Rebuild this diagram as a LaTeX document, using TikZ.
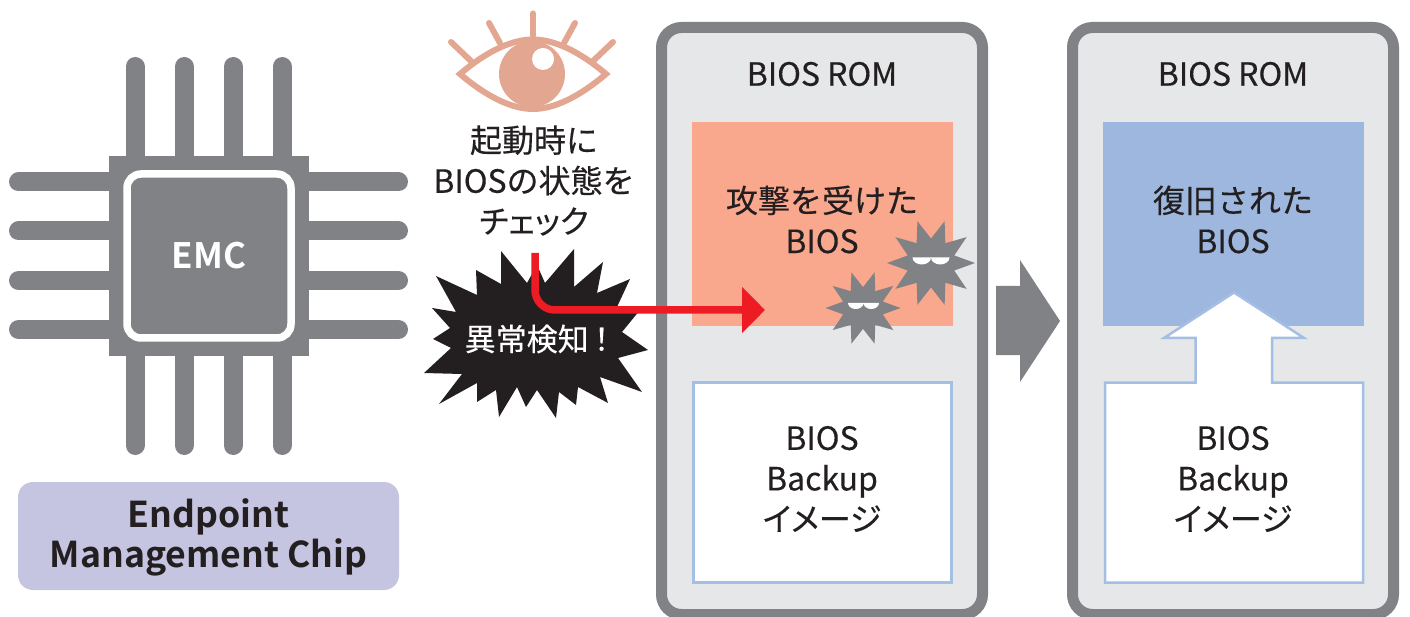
\documentclass[tikz,border=0pt]{standalone}
\usepackage{fontspec}
\setmainfont{Noto Sans CJK JP}[BoldFont={Noto Sans CJK JP Bold}]
\usepackage{tikz}
\usetikzlibrary{arrows.meta,shapes.geometric}
\pgfdeclarelayer{bg}
\pgfsetlayers{bg,main}
\definecolor{chipgray}{HTML}{808285}
\definecolor{panelgray}{HTML}{E6E7E8}
\definecolor{inkblack}{HTML}{231F20}
\definecolor{attackorange}{HTML}{F9A88E}
\definecolor{restoreblue}{HTML}{9DB7DF}
\definecolor{backupline}{HTML}{A5BEE3}
\definecolor{eyepink}{HTML}{E3A690}
\definecolor{chiplilac}{HTML}{C5C4E1}
\definecolor{alertred}{HTML}{ED1C24}
\newcommand{\tight}{\addfontfeature{RawFeature=+palt}}
\tikzset{
  pin/.style={draw=chipgray, line width=19pt, line cap=round},
  lash/.style={draw=eyepink, line width=6pt, line cap=round},
  romframe/.style={draw=chipgray, fill=panelgray, line width=11pt, rounded corners=20pt, inner sep=0pt, minimum width=321pt, minimum height=587pt},
  biosbox/.style={inner sep=0pt, minimum width=261pt, minimum height=204pt},
  backupbox/.style={draw=backupline, fill=white, line width=2.5pt, inner sep=0pt, minimum width=258pt, minimum height=200pt},
  label32/.style={text=inkblack, align=center, inner sep=0pt, font=\fontsize{32}{40.5}\selectfont\addfontfeature{FakeBold=0.3}},
  virus/.style={fill=chipgray, star, star points=10, star point ratio=1.8, shape border rotate=18, inner sep=0pt},
}
\newcommand{\viruseyes}[4]{% x, y, half width, height
  \fill [white] (#1-#3,#2) -- (#1+#3,#2) arc [x radius=#3/2, y radius=#4, start angle=0, end angle=180] arc [x radius=#3/2, y radius=#4, start angle=0, end angle=180] -- cycle;
}
\begin{document}
\begin{tikzpicture}[x=1pt,y=-1pt]
        \useasboundingbox (0,0) rectangle (1410,617);
        \begin{pgfonlayer}{bg}
                \draw [pin] (135,66.5) -- (135,445.5);
                \draw [pin] (184,66.5) -- (184,445.5);
                \draw [pin] (233,66.5) -- (233,445.5);
                \draw [pin] (282,66.5) -- (282,445.5);
                \draw [pin] (18.5,182) -- (398.5,182);
                \draw [pin] (18.5,231) -- (398.5,231);
                \draw [pin] (18.5,280.5) -- (398.5,280.5);
                \draw [pin] (18.5,329.5) -- (398.5,329.5);
        \end{pgfonlayer}
        \node (chip) [fill=chipgray, inner sep=0pt, minimum size=200pt] at (209,256) {};
        \node (core) [draw=white, line width=7.5pt, rounded corners=14pt, inner sep=0pt, minimum size=164pt, text=white, font=\fontsize{35}{35}\selectfont\bfseries] at (209,256) {EMC};
        \node (name) [fill=chiplilac, rounded corners=15pt, inner sep=0pt, minimum width=381pt, minimum height=108pt] at (208.5,536) {};
        \node (nametext) [text=inkblack, align=center, inner sep=0pt, font=\fontsize{35.6}{40}\selectfont\bfseries] at (208.5,537) {Endpoint\\Management Chip};

        % eye
        \draw [lash] (533,13.5) -- (533,36);
        \draw [lash] (489,23) -- (500,43);
        \draw [lash] (575,23) -- (564,43);
        \draw [lash] (451,42) -- (472,62);
        \draw [lash] (613,42) -- (592,62);
        \draw [eyepink, line width=6pt, fill=white] (460,74) .. controls (487,51) and (512,39.5) .. (533,39.5) .. controls (554,39.5) and (579,51) .. (606,74) .. controls (579,97) and (554,109) .. (533,109) .. controls (512,109) and (487,97) .. (460,74) -- cycle;
        \node (iris) [circle, fill=eyepink, inner sep=0pt, minimum size=66pt] at (532,74) {};
        \node (glint) [circle, fill=white, inner sep=0pt, minimum size=22pt] at (543,59) {};
        \node (check) [label32] at (534,180.5) {起動時に\\BIOSの状態を\\{\tight チェック}};

        % burst
        \fill [inkblack] (501,251) -- (527,283) -- (537,265) -- (545,283) -- (574,249) -- (574,287) -- (603,262) -- (597,293) -- (630,279) -- (617,307) -- (640,310) -- (622,332) -- (648,350) -- (618,358) -- (642,392) -- (600,377) -- (608,403) -- (578,387) -- (576,405) -- (559,392) -- (556,418) -- (537,390) -- (526,407) -- (517,387) -- (499,417) -- (496,390) -- (477,402) -- (477,383) -- (439,404) -- (462,374) -- (424,373) -- (451,348) -- (433,339) -- (450,328) -- (432,308) -- (456,312) -- (436,276) -- (477,295) -- (476,270) -- (501,284) -- cycle;
        \node (alert) [text=white, inner sep=0pt, font=\fontsize{31}{31}\selectfont\addfontfeature{FakeBold=0.3}] at (537,339) {異常検知\,{\tight ！}};

        % first rom
        \node (rom1) [romframe] at (822,321) {};
        \node (title1) [label32] at (822,74) {BIOS ROM};
        \node (bios1) [biosbox, fill=attackorange] at (822.5,224) {};
        \node (text1) [label32] at (822,219.5) {攻撃を受けた\\BIOS};
        \node (backup1) [backupbox] at (822.5,482.5) {};
        \node (btext1) [label32] at (822,479) {BIOS\\Backup\\{\tight イメージ}};
        \node (virus1) [virus, minimum size=88pt] at (931,263) {};
        \node (virus2) [virus, minimum size=75pt] at (863,308) {};
        \viruseyes{931}{257.5}{18.5}{7}
        \viruseyes{863.5}{303}{15.5}{6}

        % alert arrow
        \coordinate (c0) at (535,253);
        \coordinate (c1) at (765,310);
        \draw [alertred, line width=7.5pt, rounded corners=20pt, -{Triangle[length=23pt,width=45pt]}] (c0) |- (c1);

        % step arrow
        \fill [chipgray] (996,286) -- (1020,286) -- (1020,260) -- (1060,321) -- (1020,382) -- (1020,355) -- (996,355) -- cycle;

        % second rom
        \node (rom2) [romframe] at (1233,321) {};
        \node (title2) [label32] at (1233,74) {BIOS ROM};
        \node (bios2) [biosbox, fill=restoreblue] at (1233.5,224) {};
        \node (text2) [label32] at (1233,219.5) {復旧された\\BIOS};
        \draw [backupline, line width=2.5pt, fill=white] (1105,382.5) -- (1195.5,382.5) -- (1195.5,338) -- (1164,338) -- (1234,292.5) -- (1304,338) -- (1272,338) -- (1272,382.5) -- (1363,382.5) -- (1363,582.5) -- (1105,582.5) -- cycle;
        \node (btext2) [label32] at (1233,479) {BIOS\\Backup\\{\tight イメージ}};
\end{tikzpicture}
\end{document}
